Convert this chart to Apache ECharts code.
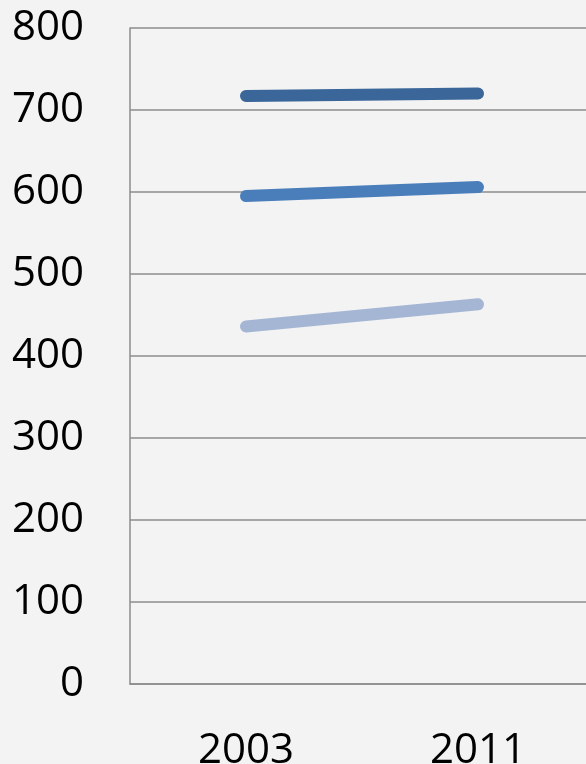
<!DOCTYPE html>
<html>
<head>
<meta charset="utf-8">
<script src="https://cdn.jsdelivr.net/npm/echarts@6/dist/echarts.min.js"></script>
<style>
  html, body { margin: 0; padding: 0; background: #f3f3f3; }
  #chart { width: 586px; height: 764px; }
</style>
</head>
<body>
<div id="chart"></div>
<script>
// data
const years = ['2003', '2011']
const seriesTop = [717, 720]
const seriesMid = [595, 606]
const seriesLow = [436, 463]
const yTicks = { min: 0, max: 800, interval: 100 }

const chart = echarts.init(document.getElementById('chart'))

const lineSeries = (data, color) => ({
  type: 'line',
  data: data,
  symbol: 'none',
  lineStyle: { width: 12, color: color, cap: 'round' },
  silent: true
})

chart.setOption({
  backgroundColor: '#f3f3f3',
  animation: false,
  grid: { left: 130, right: -8, top: 28, bottom: 80, containLabel: false, outerBoundsMode: 'none' },
  textStyle: { fontFamily: 'Open Sans' },
  xAxis: {
    type: 'category',
    data: years,
    boundaryGap: true,
    axisLine: { lineStyle: { color: '#8c8c8c', width: 1.5 } },
    axisTick: { show: false },
    axisLabel: { color: '#000', fontSize: 42, margin: 46 }
  },
  yAxis: {
    type: 'value',
    min: yTicks.min,
    max: yTicks.max,
    interval: yTicks.interval,
    axisLine: { show: true, lineStyle: { color: '#8c8c8c', width: 1.5 } },
    axisTick: { show: false },
    axisLabel: { color: '#000', fontSize: 42, margin: 46 },
    splitLine: { lineStyle: { color: '#8c8c8c', width: 1.5 } }
  },
  series: [
    lineSeries(seriesLow, '#a5b6d4'),
    lineSeries(seriesMid, '#4a7ebb'),
    lineSeries(seriesTop, '#3a6699')
  ]
})
</script>
</body>
</html>
